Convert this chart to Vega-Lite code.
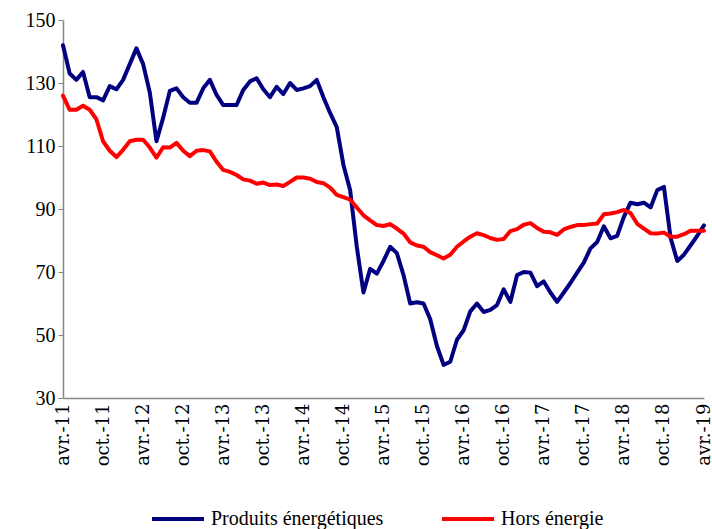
{
  "$schema": "https://vega.github.io/schema/vega-lite/v6.json",
  "autosize": "none",
  "width": 641,
  "height": 378,
  "padding": {"left": 63, "top": 20, "right": 8, "bottom": 131},
  "background": "white",
  "config": {"view": {"stroke": null}},
  "data": {"values": [
    {"mois":"avr.-11","energie":142,"hors":126},
    {"mois":"mai-11","energie":133,"hors":121.5},
    {"mois":"juin-11","energie":131,"hors":121.5},
    {"mois":"juil.-11","energie":133.5,"hors":122.8},
    {"mois":"août-11","energie":125.5,"hors":121.5},
    {"mois":"sept.-11","energie":125.5,"hors":118.5},
    {"mois":"oct.-11","energie":124.5,"hors":111.5},
    {"mois":"nov.-11","energie":129,"hors":108.5},
    {"mois":"déc.-11","energie":128,"hors":106.5},
    {"mois":"janv.-12","energie":131,"hors":108.8},
    {"mois":"févr.-12","energie":136,"hors":111.5},
    {"mois":"mars-12","energie":141,"hors":112},
    {"mois":"avr.-12","energie":136,"hors":112},
    {"mois":"mai-12","energie":127,"hors":109.5},
    {"mois":"juin-12","energie":111.5,"hors":106.3},
    {"mois":"juil.-12","energie":119,"hors":109.6},
    {"mois":"août-12","energie":127.5,"hors":109.5},
    {"mois":"sept.-12","energie":128.3,"hors":111},
    {"mois":"oct.-12","energie":125.5,"hors":108.5},
    {"mois":"nov.-12","energie":123.7,"hors":106.8},
    {"mois":"déc.-12","energie":123.7,"hors":108.5},
    {"mois":"janv.-13","energie":128.3,"hors":108.7},
    {"mois":"févr.-13","energie":131,"hors":108.3},
    {"mois":"mars-13","energie":126.2,"hors":105},
    {"mois":"avr.-13","energie":123,"hors":102.4},
    {"mois":"mai-13","energie":123,"hors":101.8},
    {"mois":"juin-13","energie":123,"hors":100.8},
    {"mois":"juil.-13","energie":127.8,"hors":99.4},
    {"mois":"août-13","energie":130.5,"hors":99},
    {"mois":"sept.-13","energie":131.5,"hors":98},
    {"mois":"oct.-13","energie":128,"hors":98.4},
    {"mois":"nov.-13","energie":125.5,"hors":97.6},
    {"mois":"déc.-13","energie":128.8,"hors":97.8},
    {"mois":"janv.-14","energie":126.5,"hors":97.3},
    {"mois":"févr.-14","energie":130,"hors":98.6},
    {"mois":"mars-14","energie":127.8,"hors":100},
    {"mois":"avr.-14","energie":128.3,"hors":100},
    {"mois":"mai-14","energie":129,"hors":99.6},
    {"mois":"juin-14","energie":131,"hors":98.6},
    {"mois":"juil.-14","energie":125.5,"hors":98.2},
    {"mois":"août-14","energie":120.5,"hors":96.8},
    {"mois":"sept.-14","energie":116,"hors":94.5},
    {"mois":"oct.-14","energie":104,"hors":93.8},
    {"mois":"nov.-14","energie":96,"hors":93},
    {"mois":"déc.-14","energie":78,"hors":90.5},
    {"mois":"janv.-15","energie":63.5,"hors":88},
    {"mois":"févr.-15","energie":71,"hors":86.4},
    {"mois":"mars-15","energie":69.5,"hors":84.9},
    {"mois":"avr.-15","energie":73.5,"hors":84.6},
    {"mois":"mai-15","energie":78,"hors":85.2},
    {"mois":"juin-15","energie":76,"hors":83.8},
    {"mois":"juil.-15","energie":69,"hors":82.2},
    {"mois":"août-15","energie":60,"hors":79.4},
    {"mois":"sept.-15","energie":60.4,"hors":78.4},
    {"mois":"oct.-15","energie":60,"hors":78},
    {"mois":"nov.-15","energie":55,"hors":76.3},
    {"mois":"déc.-15","energie":46.5,"hors":75.3},
    {"mois":"janv.-16","energie":40.5,"hors":74.3},
    {"mois":"févr.-16","energie":41.5,"hors":75.5},
    {"mois":"mars-16","energie":48.5,"hors":78},
    {"mois":"avr.-16","energie":51.5,"hors":79.7},
    {"mois":"mai-16","energie":57.5,"hors":81.2},
    {"mois":"juin-16","energie":60,"hors":82.3},
    {"mois":"juil.-16","energie":57.3,"hors":81.7},
    {"mois":"août-16","energie":58,"hors":80.8},
    {"mois":"sept.-16","energie":59.5,"hors":80.2},
    {"mois":"oct.-16","energie":64.5,"hors":80.5},
    {"mois":"nov.-16","energie":60.5,"hors":83},
    {"mois":"déc.-16","energie":69,"hors":83.6},
    {"mois":"janv.-17","energie":70,"hors":85},
    {"mois":"févr.-17","energie":69.8,"hors":85.5},
    {"mois":"mars-17","energie":65.5,"hors":84},
    {"mois":"avr.-17","energie":67,"hors":82.8},
    {"mois":"mai-17","energie":63.5,"hors":82.6},
    {"mois":"juin-17","energie":60.5,"hors":81.8},
    {"mois":"juil.-17","energie":63.5,"hors":83.5},
    {"mois":"août-17","energie":66.5,"hors":84.3},
    {"mois":"sept.-17","energie":69.8,"hors":84.9},
    {"mois":"oct.-17","energie":73,"hors":84.9},
    {"mois":"nov.-17","energie":77.5,"hors":85.2},
    {"mois":"déc.-17","energie":79.5,"hors":85.4},
    {"mois":"janv.-18","energie":84.5,"hors":88.3},
    {"mois":"févr.-18","energie":80.7,"hors":88.6},
    {"mois":"mars-18","energie":81.5,"hors":89},
    {"mois":"avr.-18","energie":87.5,"hors":89.7},
    {"mois":"mai-18","energie":92,"hors":88.7},
    {"mois":"juin-18","energie":91.5,"hors":85.3},
    {"mois":"juil.-18","energie":92,"hors":83.8},
    {"mois":"août-18","energie":90.5,"hors":82.3},
    {"mois":"sept.-18","energie":96,"hors":82.2},
    {"mois":"oct.-18","energie":97,"hors":82.5},
    {"mois":"nov.-18","energie":80.8,"hors":81.2},
    {"mois":"déc.-18","energie":73.5,"hors":81.2},
    {"mois":"janv.-19","energie":75.5,"hors":82},
    {"mois":"févr.-19","energie":78.5,"hors":83.1},
    {"mois":"mars-19","energie":81.5,"hors":83.1},
    {"mois":"avr.-19","energie":84.8,"hors":83.1}
  ]},
  "transform": [{"fold": ["energie", "hors"], "as": ["serie", "valeur"]}],
  "mark": {"type": "line", "strokeWidth": 4, "strokeJoin": "round", "strokeCap": "round"},
  "encoding": {
    "x": {
      "field": "mois", "type": "ordinal", "sort": null,
      "scale": {"type": "point", "padding": 0},
      "axis": {
        "title": null,
        "values": ["avr.-11","oct.-11","avr.-12","oct.-12","avr.-13","oct.-13","avr.-14","oct.-14","avr.-15","oct.-15","avr.-16","oct.-16","avr.-17","oct.-17","avr.-18","oct.-18","avr.-19"],
        "labelAngle": -90,
        "labelFont": "DejaVu Serif",
        "labelFontSize": 18,
        "labelColor": "#000000",
        "labelPadding": 5,
        "ticks": false,
        "domainColor": "#868686",
        "domainWidth": 1.5,
        "grid": false
      }
    },
    "y": {
      "field": "valeur", "type": "quantitative",
      "scale": {"domain": [30, 150], "nice": false, "zero": false},
      "axis": {
        "title": null,
        "values": [30, 50, 70, 90, 110, 130, 150],
        "labelFont": "Liberation Serif",
        "labelFontSize": 20,
        "labelColor": "#000000",
        "labelPadding": 3,
        "tickSize": 5,
        "tickColor": "#868686",
        "domainColor": "#868686",
        "domainWidth": 1.5,
        "grid": false
      }
    },
    "color": {
      "field": "serie", "type": "nominal",
      "scale": {"domain": ["energie", "hors"], "range": ["#000080", "#FF0000"]},
      "legend": {
        "title": null,
        "orient": "none",
        "legendX": 87,
        "legendY": 471,
        "padding": 0,
        "direction": "horizontal",
        "symbolType": "stroke",
        "symbolStrokeWidth": 4,
        "symbolSize": 2704,
        "labelOffset": 5,
        "labelLimit": 400,
        "labelFont": "Liberation Serif",
        "labelFontSize": 20,
        "labelColor": "#000000",
        "columnPadding": 50,
        "labelExpr": "datum.label == 'energie' ? 'Produits énergétiques' : 'Hors énergie'"
      }
    }
  }
}
